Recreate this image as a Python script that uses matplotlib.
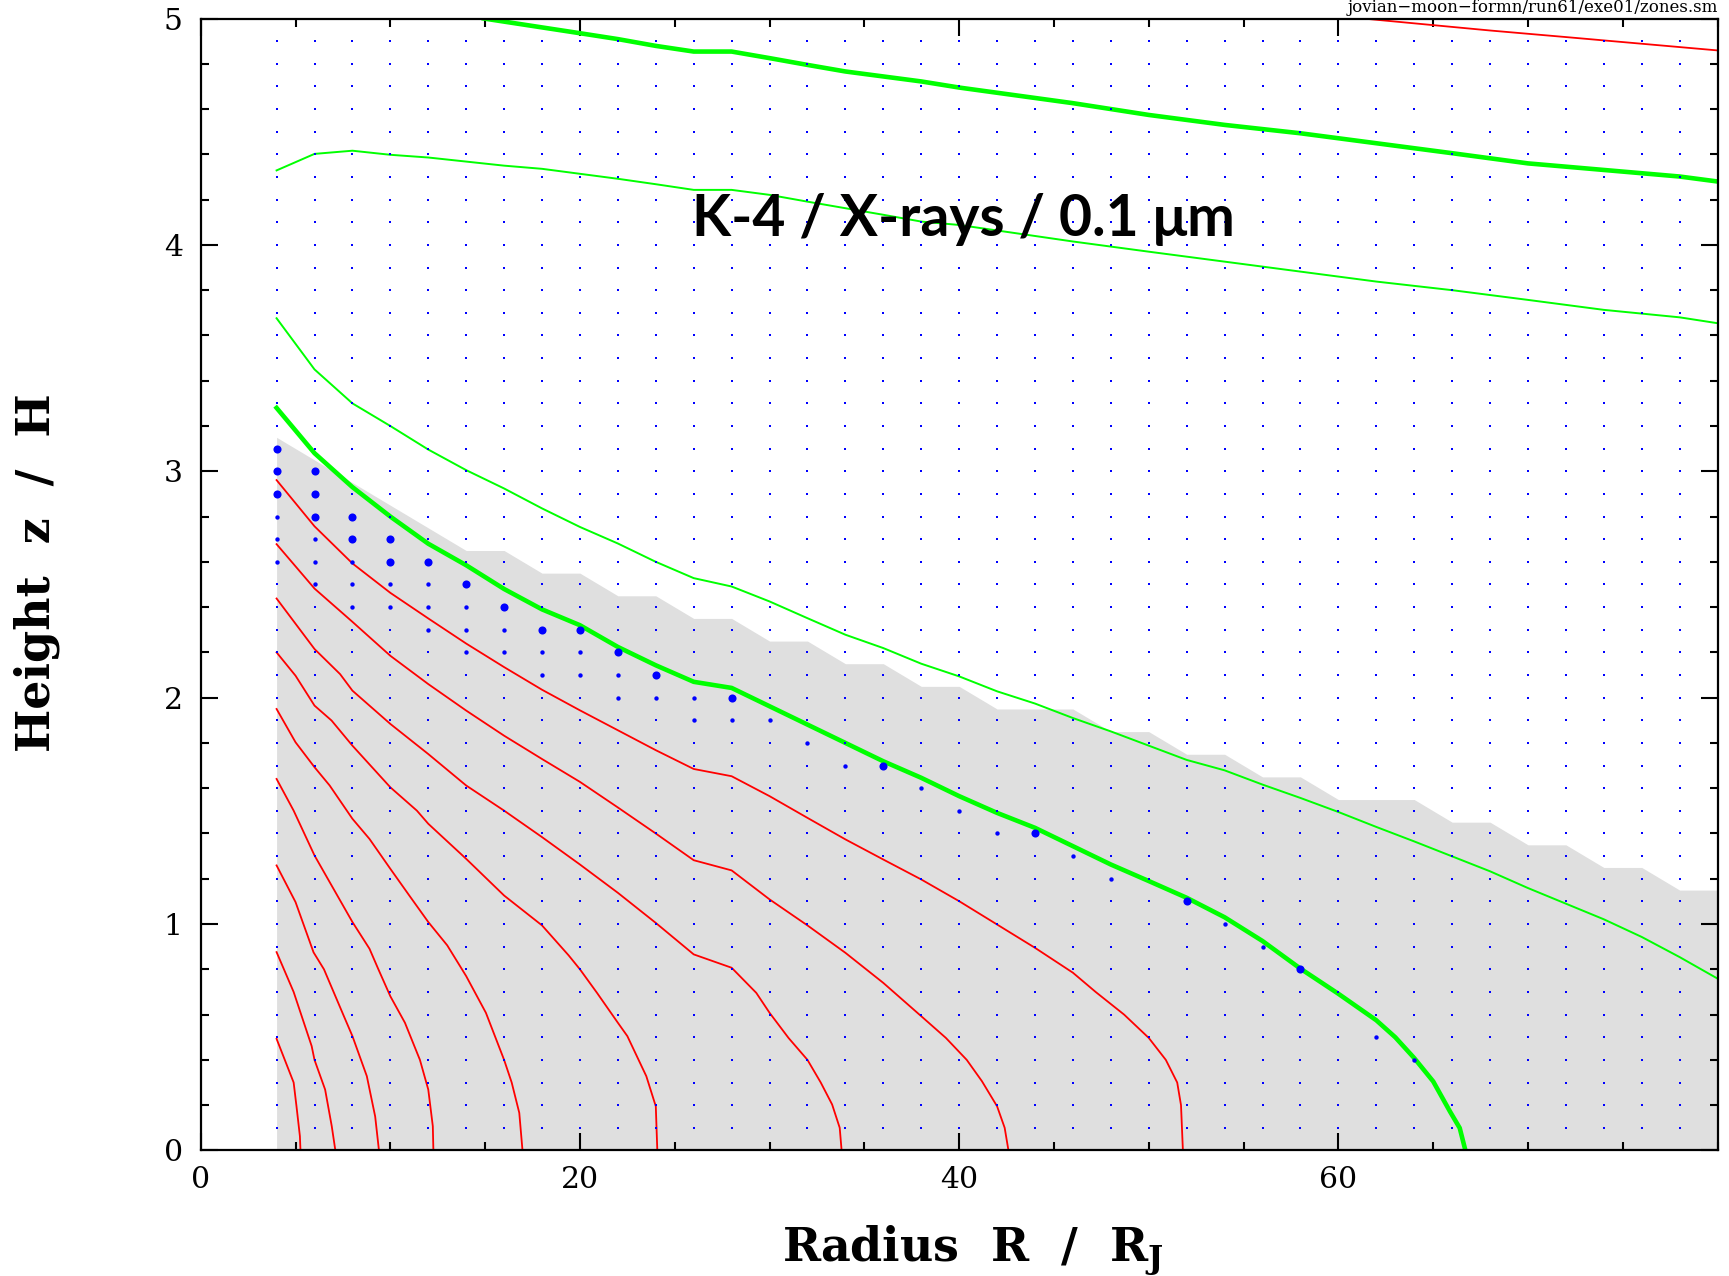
import numpy as np
import matplotlib.pyplot as plt
from matplotlib.ticker import MultipleLocator, FixedLocator

plt.rcParams['mathtext.fontset'] = 'dejavuserif'

# grid of zones (small dots)
grid_r = [4, 6, 8, 10, 12, 14, 16, 18, 20, 22, 24, 26, 28, 30, 32, 34, 36, 38, 40,
          42, 44, 46, 48, 50, 52, 54, 56, 58, 60, 62, 64, 66, 68, 70, 72, 74, 76, 78]
grid_z = [0.1, 0.2, 0.3, 0.4, 0.5, 0.6, 0.7, 0.8, 0.9, 1.0, 1.1, 1.2, 1.3, 1.4, 1.5,
          1.6, 1.7, 1.8, 1.9, 2.0, 2.1, 2.2, 2.3, 2.4, 2.5, 2.6, 2.7, 2.8, 2.9, 3.0,
          3.1, 3.2, 3.3, 3.4, 3.5, 3.6, 3.7, 3.8, 3.9, 4.0, 4.1, 4.2, 4.3, 4.4, 4.5,
          4.6, 4.7, 4.8, 4.9]

# medium dots
mid_r = [4, 4, 4, 6, 6, 6, 8, 8, 8, 10, 10, 12, 12, 12, 14, 14, 14, 16, 16, 18, 18,
         20, 20, 22, 22, 24, 26, 26, 28, 30, 32, 34, 38, 40, 42, 46, 48, 54, 56, 62, 64]
mid_z = [2.8, 2.7, 2.6, 2.7, 2.6, 2.5, 2.6, 2.5, 2.4, 2.5, 2.4, 2.5, 2.4, 2.3, 2.4, 2.3,
         2.2, 2.3, 2.2, 2.2, 2.1, 2.2, 2.1, 2.1, 2.0, 2.0, 2.0, 1.9, 1.9, 1.9, 1.8, 1.7,
         1.6, 1.5, 1.4, 1.3, 1.2, 1.0, 0.9, 0.5, 0.4]

# large dots
big_r = [4, 4, 4, 6, 6, 6, 8, 8, 10, 10, 12, 14, 16, 18, 20, 22, 24, 28, 36, 44, 52, 58]
big_z = [3.1, 3.0, 2.9, 3.0, 2.9, 2.8, 2.8, 2.7, 2.7, 2.6, 2.6, 2.5, 2.4, 2.3, 2.3,
         2.2, 2.1, 2.0, 1.7, 1.4, 1.1, 0.8]

# upper edge of the grey region
edge_r = [4, 6, 8, 10, 12, 14, 16, 18, 20, 22, 24, 26, 28, 30, 32, 34, 36, 38, 40,
          42, 44, 46, 48, 50, 52, 54, 56, 58, 60, 62, 64, 66, 68, 70, 72, 74, 76, 78, 80]
edge_z = [3.15, 3.05, 2.95, 2.85, 2.75, 2.65, 2.65, 2.55, 2.55, 2.45, 2.45, 2.35, 2.35,
          2.25, 2.25, 2.15, 2.15, 2.05, 2.05, 1.95, 1.95, 1.95, 1.85, 1.85, 1.75, 1.75,
          1.65, 1.65, 1.55, 1.55, 1.55, 1.45, 1.45, 1.35, 1.35, 1.25, 1.25, 1.15, 1.15]

# red contours
red1_r = [4, 4.9, 5.05, 5.23, 5.26]
red1_z = [0.493, 0.30, 0.195, 0.063, 0.0]
red2_r = [4, 4.9, 5.85, 6.0, 6.56, 6.91, 7.1]
red2_z = [0.876, 0.70, 0.461, 0.40, 0.269, 0.107, 0.0]
red3_r = [4, 5.0, 5.95, 6.5, 7.55, 8.0, 8.76, 9.2, 9.4]
red3_z = [1.259, 1.097, 0.875, 0.80, 0.593, 0.505, 0.328, 0.15, 0.0]
red4_r = [4, 4.9, 6.0, 6.7, 8.0, 8.9, 9.37, 10.0, 10.77, 11.56, 12.0, 12.24, 12.27]
red4_z = [1.641, 1.501, 1.303, 1.2, 1.009, 0.891, 0.80, 0.681, 0.564, 0.40, 0.269,
          0.107, 0.0]
red5_r = [4, 5, 6, 6.8, 8, 8.9, 10, 11, 12, 13, 14, 15.04, 16, 16.4, 16.8, 16.97]
red5_z = [1.95, 1.803, 1.693, 1.612, 1.465, 1.376, 1.244, 1.126, 1.009, 0.906, 0.77,
          0.608, 0.40, 0.30, 0.166, 0.0]
red6_r = [4, 5, 6, 6.9, 8, 10, 11.4, 12, 14, 16, 18, 19.4, 20, 20.9, 22, 22.5, 23.5,
          24, 24.08]
red6_z = [2.2, 2.097, 1.965, 1.899, 1.788, 1.604, 1.501, 1.443, 1.288, 1.126, 0.994,
          0.862, 0.80, 0.696, 0.564, 0.505, 0.328, 0.195, 0.0]
red7_r = [4, 6, 7.35, 8, 10, 12, 14, 16, 18, 20, 22, 24, 26, 28, 29.3, 30, 31, 32, 32.7,
          33.3, 33.7, 33.8]
red7_z = [2.438, 2.215, 2.104, 2.031, 1.884, 1.751, 1.612, 1.501, 1.384, 1.263, 1.138,
          1.005, 0.866, 0.807, 0.696, 0.608, 0.497, 0.40, 0.30, 0.203, 0.10, 0.0]
red8_r = [4, 6, 8, 10, 12, 14, 16, 18, 20, 22, 24, 26, 28, 30, 32, 34, 36, 38, 39.3,
          40.4, 41.2, 42, 42.4, 42.6]
red8_z = [2.678, 2.482, 2.335, 2.185, 2.06, 1.943, 1.832, 1.729, 1.628, 1.515, 1.40,
          1.282, 1.237, 1.109, 0.994, 0.873, 0.74, 0.593, 0.497, 0.40, 0.306, 0.195,
          0.10, 0.0]
red9_r = [4, 6, 8, 10, 12, 14, 16, 18, 20, 22, 24, 26, 28, 30, 32, 34, 36, 38, 40, 42,
          44, 46, 47.2, 48.7, 50, 50.9, 51.5, 51.7, 51.8]
red9_z = [2.961, 2.757, 2.593, 2.463, 2.35, 2.239, 2.135, 2.035, 1.944, 1.856, 1.768,
          1.685, 1.653, 1.565, 1.469, 1.374, 1.285, 1.197, 1.101, 0.998, 0.895, 0.785,
          0.70, 0.60, 0.497, 0.40, 0.30, 0.20, 0.0]
red10_r = [61.3, 68, 72, 80]
red10_z = [5.0, 4.947, 4.918, 4.859]

# green contours (thick ones are the main levels)
grn1_r = [4, 6, 8, 10, 12, 14, 16, 18, 20, 22, 24, 26, 28, 30, 32, 34, 36, 38, 40, 42,
          44, 46, 48, 50, 52, 54, 56, 58, 60, 62, 63, 64, 65, 65.9, 66.4, 66.7]
grn1_z = [3.28, 3.08, 2.93, 2.80, 2.68, 2.585, 2.48, 2.39, 2.32, 2.224, 2.143, 2.07,
          2.043, 1.962, 1.881, 1.80, 1.719, 1.646, 1.565, 1.491, 1.425, 1.344, 1.263,
          1.19, 1.116, 1.03, 0.925, 0.803, 0.692, 0.575, 0.50, 0.408, 0.305, 0.17,
          0.099, 0.0]
grn2_r = [4, 6, 8, 10, 12, 14, 16, 18, 20, 22, 24, 26, 28, 30, 32, 34, 36, 38, 40, 42,
          44, 46, 48, 50, 52, 54, 56, 58, 60, 62, 64, 66, 68, 70, 72, 74, 76, 78, 80]
grn2_z = [3.676, 3.45, 3.30, 3.20, 3.096, 3.005, 2.924, 2.836, 2.754, 2.681, 2.60,
          2.528, 2.491, 2.425, 2.351, 2.278, 2.219, 2.15, 2.094, 2.028, 1.974, 1.91,
          1.851, 1.788, 1.725, 1.679, 1.616, 1.557, 1.495, 1.429, 1.365, 1.299, 1.233,
          1.159, 1.09, 1.021, 0.943, 0.854, 0.759]
grn3_r = [4, 6, 8, 10, 12, 14, 16, 18, 20, 22, 24, 26, 28, 30, 32, 34, 36, 38, 40, 46,
          50, 54, 58, 62, 66, 70, 74, 78, 80]
grn3_z = [4.329, 4.402, 4.416, 4.398, 4.386, 4.368, 4.35, 4.336, 4.314, 4.292, 4.268,
          4.243, 4.243, 4.221, 4.191, 4.162, 4.133, 4.103, 4.088, 4.015, 3.97, 3.926,
          3.882, 3.838, 3.80, 3.757, 3.713, 3.68, 3.654]
grn4_r = [14.93, 20, 22, 24, 26, 28, 30, 32, 34, 36, 38, 40, 46, 50, 54, 58, 62, 66,
          70, 74, 78, 80]
grn4_z = [5.0, 4.935, 4.909, 4.879, 4.854, 4.854, 4.825, 4.795, 4.766, 4.744, 4.722,
          4.695, 4.626, 4.574, 4.53, 4.493, 4.449, 4.405, 4.36, 4.331, 4.302, 4.28]

red_lines = [(red1_r, red1_z), (red2_r, red2_z), (red3_r, red3_z), (red4_r, red4_z),
             (red5_r, red5_z), (red6_r, red6_z), (red7_r, red7_z), (red8_r, red8_z),
             (red9_r, red9_z), (red10_r, red10_z)]
thin_green = [(grn2_r, grn2_z), (grn3_r, grn3_z)]
thick_green = [(grn1_r, grn1_z), (grn4_r, grn4_z)]

fig = plt.figure(figsize=(17.29, 12.76), dpi=100)
ax = fig.add_axes([0.1161, 0.0984, 0.8773, 0.8871])

ax.fill_between(edge_r, 0, edge_z, color='#dfdfdf', lw=0, zorder=0)

for r, z in red_lines:
    ax.plot(r, z, color='#ff0000', lw=1.3, zorder=2, solid_joinstyle='round')
for r, z in thin_green:
    ax.plot(r, z, color='#00ff00', lw=1.4, zorder=2)
for r, z in thick_green:
    ax.plot(r, z, color='#00ff00', lw=3.3, zorder=2)

R, Z = np.meshgrid(grid_r, grid_z)
ax.scatter(R.ravel(), Z.ravel(), s=2.6, marker='s', c='#0000ff', lw=0, zorder=4)
ax.scatter(mid_r, mid_z, s=10, c='#0000ff', lw=0, zorder=5)
ax.scatter(big_r, big_z, s=34, c='#0000ff', lw=0, zorder=5)

ax.set_xlim(0, 80)
ax.set_ylim(0, 5)
ax.xaxis.set_major_locator(FixedLocator([0, 20, 40, 60]))
ax.xaxis.set_minor_locator(MultipleLocator(5))
ax.yaxis.set_major_locator(MultipleLocator(1))
ax.yaxis.set_minor_locator(MultipleLocator(0.2))
ax.tick_params(which='both', direction='in', top=True, right=True, width=1.5,
               labelsize=21.5, labelfontfamily='DejaVu Serif')
ax.tick_params(which='major', length=12)
ax.tick_params(which='minor', length=5.5)
ax.tick_params(axis='x', pad=11)
ax.tick_params(axis='y', pad=13)
for s in ax.spines.values():
    s.set_linewidth(1.6)

ax.set_xlabel(r'Radius  R  /  R$_{\mathbf{J}}$', family='DejaVu Serif',
              fontweight='bold', fontsize=33, va='baseline')
ax.xaxis.set_label_coords(0.509, -0.098)
ax.set_ylabel('Height  z  /  H', family='DejaVu Serif', fontweight='bold',
              fontsize=33, va='baseline')
ax.yaxis.set_label_coords(-0.0994, 0.5105)

ax.text(40.2, 4.04, 'K-4 / X-rays / 0.1 μm', family=['Lato', 'DejaVu Sans'],
        fontweight='bold', fontsize=41, ha='center', va='baseline', zorder=6)

fig.text(1718 / 1729, 1 - 12 / 1276, 'jovian−moon−formn/run61/exe01/zones.sm',
         family='DejaVu Serif', fontsize=12, ha='right', va='baseline')

fig.savefig('out.png', dpi=100)
